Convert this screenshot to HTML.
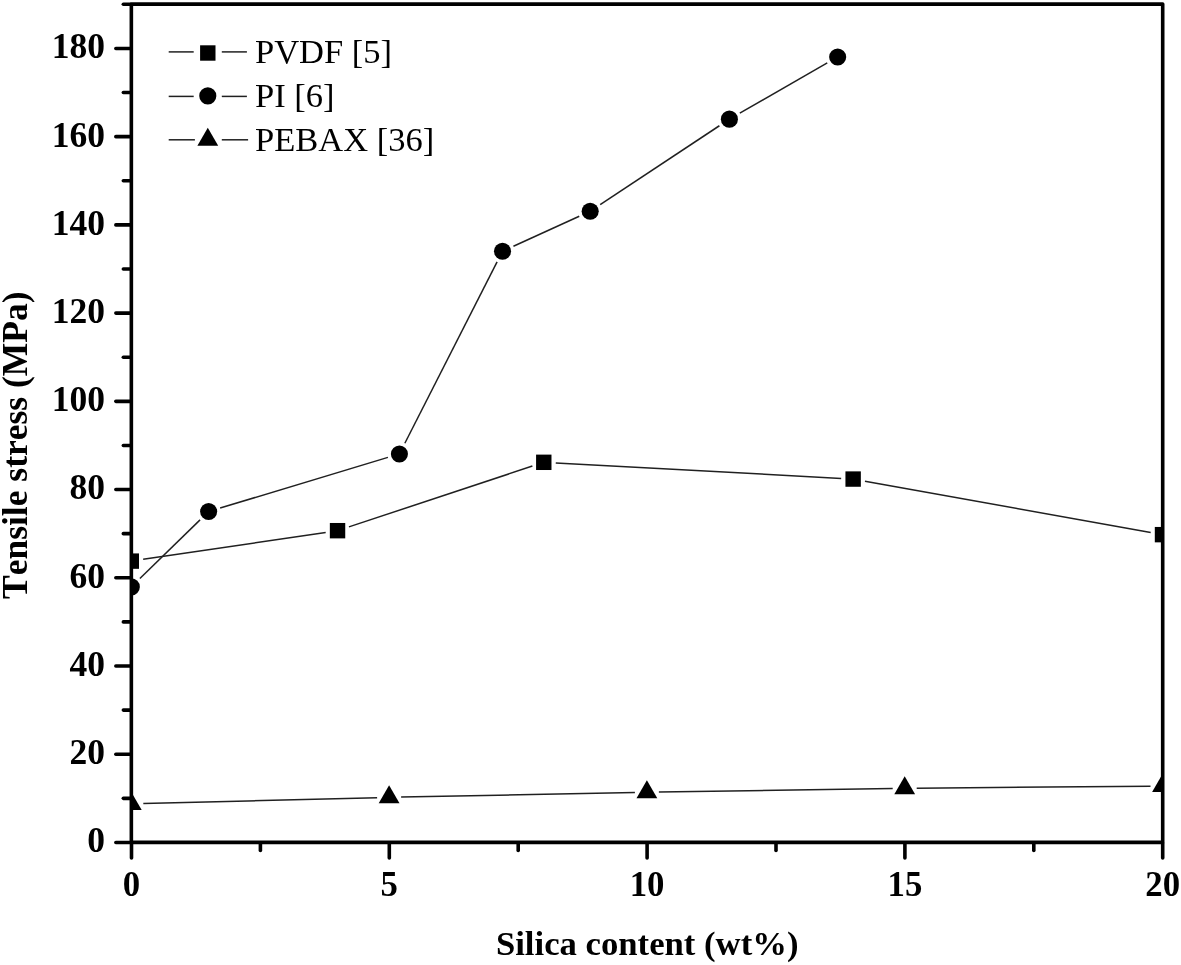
<!DOCTYPE html>
<html lang="en"><head><meta charset="utf-8"><title>Tensile stress vs silica content</title>
<style>html,body{margin:0;padding:0;background:#fff;}body{width:1181px;height:965px;overflow:hidden;}svg{display:block;filter:blur(0.45px);}text{font-kerning:none;}</style>
</head><body>
<svg width="1181" height="965" viewBox="0 0 1181 965">
<rect width="1181" height="965" fill="#fff"/>
<defs><clipPath id="plot"><rect x="131.35" y="4.10" width="1031.35" height="838.30"/></clipPath></defs>
<g clip-path="url(#plot)">
<g stroke="#202020" stroke-width="1.5" fill="none">
<line x1="143.17" y1="559.36" x2="325.67" y2="532.43"/>
<line x1="348.93" y1="526.90" x2="532.39" y2="466.08"/>
<line x1="555.76" y1="462.96" x2="841.16" y2="478.42"/>
<line x1="864.95" y1="481.19" x2="1150.69" y2="532.53"/>
<line x1="139.89" y1="578.54" x2="200.05" y2="519.87"/>
<line x1="220.13" y1="508.03" x2="387.92" y2="457.39"/>
<line x1="404.85" y1="443.23" x2="497.09" y2="261.93"/>
<line x1="513.45" y1="246.27" x2="579.26" y2="216.29"/>
<line x1="600.19" y1="204.69" x2="719.39" y2="125.75"/>
<line x1="739.80" y1="113.15" x2="827.27" y2="62.91"/>
<line x1="143.30" y1="803.59" x2="377.10" y2="797.63"/>
<line x1="401.10" y1="797.09" x2="634.90" y2="792.49"/>
<line x1="658.90" y1="792.07" x2="892.70" y2="788.47"/>
<line x1="916.70" y1="788.18" x2="1150.50" y2="786.18"/>
</g>
<g fill="#000">
<rect x="123.60" y="553.42" width="15.4" height="15.4"/>
<rect x="329.84" y="522.98" width="15.4" height="15.4"/>
<rect x="536.08" y="454.61" width="15.4" height="15.4"/>
<rect x="845.44" y="471.37" width="15.4" height="15.4"/>
<rect x="1154.80" y="526.95" width="15.4" height="15.4"/>
<circle cx="131.30" cy="586.92" r="8.55"/>
<circle cx="208.64" cy="511.49" r="8.55"/>
<circle cx="399.41" cy="453.93" r="8.55"/>
<circle cx="502.53" cy="251.24" r="8.55"/>
<circle cx="590.18" cy="211.32" r="8.55"/>
<circle cx="729.40" cy="119.13" r="8.55"/>
<circle cx="837.67" cy="56.93" r="8.55"/>
<polygon points="120.90,809.90 141.70,809.90 131.30,791.90"/>
<polygon points="378.70,803.33 399.50,803.33 389.10,785.33"/>
<polygon points="636.50,798.26 657.30,798.26 646.90,780.26"/>
<polygon points="894.30,794.29 915.10,794.29 904.70,776.29"/>
<polygon points="1152.10,792.08 1172.90,792.08 1162.50,774.08"/>
</g></g>
<g stroke="#000" stroke-width="3.6" stroke-linecap="round" fill="none">
<rect x="131.35" y="4.1" width="1031.35" height="838.30" stroke-linejoin="round"/>
<line x1="115.85" y1="842.45" x2="130.35" y2="842.45"/>
<line x1="123.35" y1="798.34" x2="130.35" y2="798.34"/>
<line x1="115.85" y1="754.23" x2="130.35" y2="754.23"/>
<line x1="123.35" y1="710.11" x2="130.35" y2="710.11"/>
<line x1="115.85" y1="666.00" x2="130.35" y2="666.00"/>
<line x1="123.35" y1="621.89" x2="130.35" y2="621.89"/>
<line x1="115.85" y1="577.78" x2="130.35" y2="577.78"/>
<line x1="123.35" y1="533.67" x2="130.35" y2="533.67"/>
<line x1="115.85" y1="489.55" x2="130.35" y2="489.55"/>
<line x1="123.35" y1="445.44" x2="130.35" y2="445.44"/>
<line x1="115.85" y1="401.33" x2="130.35" y2="401.33"/>
<line x1="123.35" y1="357.22" x2="130.35" y2="357.22"/>
<line x1="115.85" y1="313.11" x2="130.35" y2="313.11"/>
<line x1="123.35" y1="268.99" x2="130.35" y2="268.99"/>
<line x1="115.85" y1="224.88" x2="130.35" y2="224.88"/>
<line x1="123.35" y1="180.77" x2="130.35" y2="180.77"/>
<line x1="115.85" y1="136.66" x2="130.35" y2="136.66"/>
<line x1="123.35" y1="92.55" x2="130.35" y2="92.55"/>
<line x1="115.85" y1="48.43" x2="130.35" y2="48.43"/>
<line x1="123.35" y1="4.32" x2="130.35" y2="4.32"/>
<line x1="131.50" y1="843.4" x2="131.50" y2="857.90"/>
<line x1="260.40" y1="843.4" x2="260.40" y2="850.40"/>
<line x1="389.30" y1="843.4" x2="389.30" y2="857.90"/>
<line x1="518.20" y1="843.4" x2="518.20" y2="850.40"/>
<line x1="647.10" y1="843.4" x2="647.10" y2="857.90"/>
<line x1="776.00" y1="843.4" x2="776.00" y2="850.40"/>
<line x1="904.90" y1="843.4" x2="904.90" y2="857.90"/>
<line x1="1033.80" y1="843.4" x2="1033.80" y2="850.40"/>
<line x1="1162.70" y1="843.4" x2="1162.70" y2="857.90"/>
</g>
<g font-family="'Liberation Serif', 'Times New Roman', serif" font-weight="bold" font-size="35.5" fill="#000">
<text transform="translate(105,852.35) scale(1.022,1)" font-size="34.75" text-anchor="end">0</text>
<text transform="translate(105,764.13) scale(1.022,1)" font-size="34.75" text-anchor="end">20</text>
<text transform="translate(105,675.90) scale(1.022,1)" font-size="34.75" text-anchor="end">40</text>
<text transform="translate(105,587.68) scale(1.022,1)" font-size="34.75" text-anchor="end">60</text>
<text transform="translate(105,499.45) scale(1.022,1)" font-size="34.75" text-anchor="end">80</text>
<text transform="translate(105,411.23) scale(1.022,1)" font-size="34.75" text-anchor="end">100</text>
<text transform="translate(105,323.01) scale(1.022,1)" font-size="34.75" text-anchor="end">120</text>
<text transform="translate(105,234.78) scale(1.022,1)" font-size="34.75" text-anchor="end">140</text>
<text transform="translate(105,146.56) scale(1.022,1)" font-size="34.75" text-anchor="end">160</text>
<text transform="translate(105,58.33) scale(1.022,1)" font-size="34.75" text-anchor="end">180</text>
<text x="131.50" y="895.8" font-size="34.75" text-anchor="middle">0</text>
<text x="389.30" y="895.8" font-size="34.75" text-anchor="middle">5</text>
<text x="647.10" y="895.8" font-size="34.75" text-anchor="middle">10</text>
<text x="904.90" y="895.8" font-size="34.75" text-anchor="middle">15</text>
<text x="1162.70" y="895.8" font-size="34.75" text-anchor="middle">20</text>
<text x="647.2" y="954.6" font-size="34.7" text-anchor="middle">Silica content (wt%)</text>
<text transform="translate(27.2,445.2) rotate(-90)" text-anchor="middle">Tensile stress (MPa)</text>
</g>
<g stroke="#202020" stroke-width="1.5">
<line x1="168.7" y1="51.9" x2="193.7" y2="51.9"/><line x1="221.8" y1="51.9" x2="246.9" y2="51.9"/>
<line x1="168.7" y1="96.4" x2="193.7" y2="96.4"/><line x1="221.8" y1="96.4" x2="246.9" y2="96.4"/>
<line x1="168.7" y1="139.8" x2="194.89999999999998" y2="139.8"/><line x1="221.8" y1="139.8" x2="248.1" y2="139.8"/>
</g><g fill="#000">
<rect x="200.10" y="45.30" width="15.4" height="15.4"/>
<circle cx="207.80" cy="95.90" r="8.55"/>
<polygon points="197.40,145.70 218.20,145.70 207.80,127.70"/>
</g>
<g font-family="'Liberation Serif', 'Times New Roman', serif" font-size="34.5" fill="#000">
<text x="255.0" y="63.1">PVDF [5]</text>
<text x="255.0" y="107.4">PI [6]</text>
<text x="255.0" y="150.6">PEBAX [36]</text>
</g>
</svg>
</body></html>
